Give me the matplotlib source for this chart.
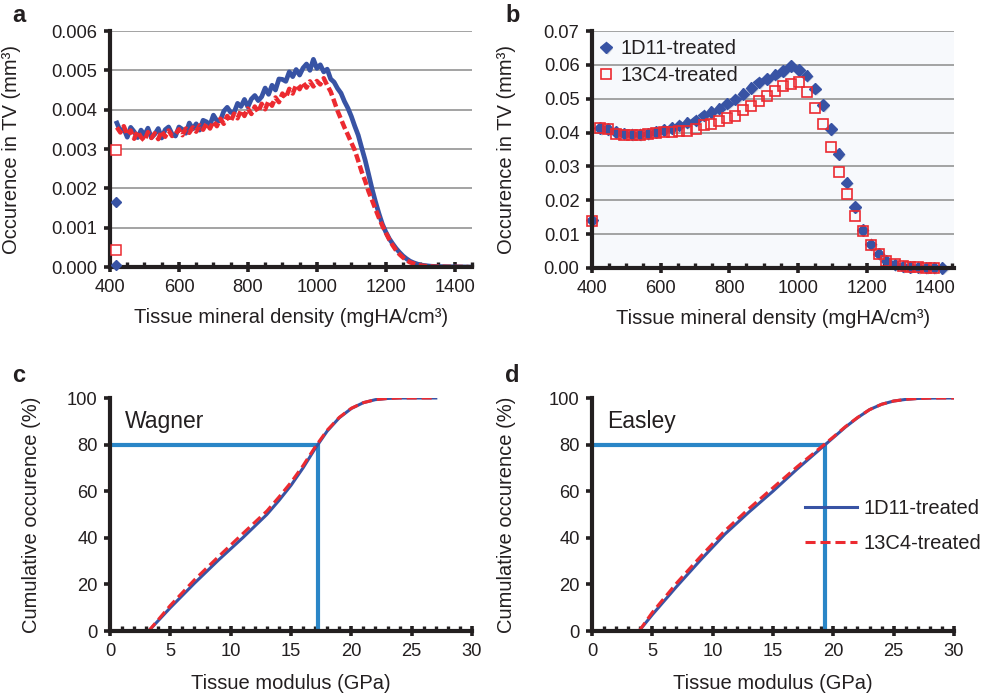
import numpy as np
import matplotlib
matplotlib.use('Agg')
import matplotlib.pyplot as plt
from matplotlib.ticker import MultipleLocator, FormatStrFormatter
import matplotlib.patheffects as pe

plt.rcParams['font.family'] = ['Liberation Sans', 'DejaVu Sans']

# ---------------- data ----------------
# Panel a: histogram of tissue mineral density (bins every 10 mgHA/cm3), x1e-3 mm3
tmd_a = list(range(420, 1450, 10))
a_1d11 = [3.66, 3.45, 3.52, 3.30, 3.55, 3.44, 3.29, 3.48, 3.35, 3.53,
          3.29, 3.38, 3.52, 3.28, 3.49, 3.56, 3.38, 3.33, 3.56, 3.50,
          3.40, 3.66, 3.51, 3.64, 3.48, 3.73, 3.69, 3.61, 3.86, 3.72,
          3.72, 3.96, 4.06, 3.93, 3.93, 4.16, 4.08, 4.26, 4.07, 4.27,
          4.36, 4.23, 4.33, 4.55, 4.39, 4.62, 4.50, 4.78, 4.77, 4.72,
          4.96, 4.84, 5.02, 4.88, 5.06, 5.16, 5.00, 5.28, 5.05, 5.14,
          4.96, 5.03, 4.78, 4.70, 4.54, 4.42, 4.21, 4.04, 3.83, 3.58,
          3.35, 3.03, 2.72, 2.36, 1.99, 1.66, 1.36, 1.09, 0.89, 0.72,
          0.59, 0.47, 0.37, 0.28, 0.21, 0.15, 0.11, 0.08, 0.05, 0.04,
          0.03, 0.02, 0.015, 0.01, 0.01, 0.008, 0.006, 0.005, 0.004, 0.003,
          0.002, 0.001, 0.0]
a_13c4 = [3.55, 3.42, 3.58, 3.36, 3.47, 3.26, 3.45, 3.30, 3.21, 3.43,
          3.28, 3.40, 3.25, 3.46, 3.31, 3.47, 3.33, 3.38, 3.50, 3.35,
          3.52, 3.41, 3.55, 3.44, 3.60, 3.49, 3.65, 3.52, 3.70, 3.58,
          3.77, 3.64, 3.84, 3.70, 3.90, 3.78, 3.98, 3.84, 4.03, 3.89,
          4.08, 3.94, 4.15, 4.01, 4.22, 4.10, 4.31, 4.19, 4.41, 4.30,
          4.53, 4.41, 4.63, 4.52, 4.69, 4.56, 4.72, 4.59, 4.73, 4.64,
          4.80, 4.62, 4.46, 4.22, 3.97, 3.76, 3.55, 3.36, 3.16, 2.97,
          2.70, 2.42, 2.19, 1.92, 1.70, 1.47, 1.25, 1.05, 0.87, 0.70,
          0.55, 0.42, 0.32, 0.24, 0.17, 0.12, 0.09, 0.06, 0.04, 0.03,
          0.02, 0.015, 0.01, 0.01, 0.008, 0.006, 0.005, 0.004, 0.003, 0.002,
          0.001, 0.0, 0.0]
a_1d11 = [v / 1000 for v in a_1d11]
a_13c4 = [v / 1000 for v in a_13c4]
# isolated first-bin points in panel a
a_pts_x = [417, 417]
a_pts_1d11 = [0.00164, 0.00004]
a_pts_13c4 = [0.00297, 0.00042]

# Panel b: coarser histogram
tmd_b = [400, 423, 446, 470, 493, 516, 539, 562, 586, 609, 632, 655, 678, 702,
         725, 748, 771, 794, 818, 841, 864, 887, 910, 934, 957, 980, 1003,
         1026, 1050, 1073, 1096, 1119, 1142, 1166, 1189, 1212, 1235, 1258,
         1282, 1305, 1328, 1351, 1374, 1398, 1421]
b_1d11 = [0.0141, 0.0413, 0.0410, 0.0402, 0.0397, 0.0395, 0.0395, 0.0397,
          0.0402, 0.0408, 0.0413, 0.0421, 0.0429, 0.0436, 0.0451, 0.0461,
          0.0471, 0.0485, 0.0498, 0.0514, 0.0532, 0.0548, 0.0558, 0.0571,
          0.0582, 0.0597, 0.0585, 0.0568, 0.0530, 0.0481, 0.0410, 0.0337,
          0.0252, 0.0180, 0.0112, 0.0070, 0.0042, 0.0022, 0.0010, 0.0005,
          0.0003, 0.0002, 0.0001, 0.0001, 0.0000]
b_13c4 = [0.0138, 0.0413, 0.0410, 0.0397, 0.0393, 0.0393, 0.0393, 0.0395,
          0.0398, 0.0402, 0.0402, 0.0405, 0.0406, 0.0410, 0.0421, 0.0426,
          0.0434, 0.0444, 0.0450, 0.0468, 0.0478, 0.0493, 0.0507, 0.0522,
          0.0539, 0.0543, 0.0548, 0.0520, 0.0473, 0.0424, 0.0356, 0.0283,
          0.0218, 0.0155, 0.0110, 0.0068, 0.0040, 0.0022, 0.0011, 0.0005,
          0.0003, 0.0002, 0.0001, 0.0001]

# Panel c: cumulative occurrence, Wagner
mod_c = [3.2, 5, 7, 9, 11, 13, 14, 15, 16, 17, 18, 19, 20, 21, 22, 23, 24, 25, 27]
c_1d11 = [0, 10, 20.5, 30.5, 40, 50, 56, 62.5, 70, 78.3, 85.8, 91.5, 95.5, 98,
          99.3, 99.8, 100, 100, 100]
c_13c4 = [0, 11, 22, 32, 41.8, 51.5, 57.5, 63.8, 71, 79, 86.2, 91.7, 95.6, 98,
          99.3, 99.8, 100, 100, 100]
c_mod80 = 17.2

# Panel d: cumulative occurrence, Easley
mod_d = [3.9, 5, 7, 9, 11, 13, 15, 17, 19, 20, 21, 22, 23, 24, 25, 26, 27, 28,
         29, 30]
d_1d11 = [0, 7, 19, 30.5, 41.5, 51, 60, 69.5, 78.5, 83, 87.5, 91.5, 95, 97.3,
          98.7, 99.4, 99.8, 99.95, 100, 100]
d_13c4 = [0, 8, 20.5, 32, 43, 52.5, 61.5, 70.5, 79, 83.3, 87.7, 91.6, 95, 97.3,
          98.7, 99.4, 99.8, 99.95, 100, 100]
d_mod80 = 19.35
level80 = 80

# ---------------- style ----------------
navy = '#3853A4'
red = '#EC2A30'
line80 = '#2A86C7'
dark = '#231F20'
gridc = '#9C9C9C'
TICK_FS = 13.2
LABEL_FS = 14.5
LEG_FS = 14.5

W, H = 984, 695
fig = plt.figure(figsize=(W / 100, H / 100), dpi=100)


def add_ax(l, t, r, b):
    return fig.add_axes([l / W, 1 - b / H, (r - l) / W, (b - t) / H])


def style(ax, xmaj, xmin, ymaj, grid):
    for s in ['top', 'right']:
        ax.spines[s].set_visible(False)
    for s in ['left', 'bottom']:
        ax.spines[s].set_linewidth(3)
        ax.spines[s].set_color(dark)
        ax.spines[s].set_capstyle('projecting')
        ax.spines[s].set_zorder(5)
    ax.xaxis.set_major_locator(MultipleLocator(xmaj))
    ax.xaxis.set_minor_locator(MultipleLocator(xmin))
    ax.yaxis.set_major_locator(MultipleLocator(ymaj))
    ax.tick_params(axis='x', which='major', direction='inout', length=7,
                   width=2.6, color=dark, pad=5, labelsize=TICK_FS,
                   labelcolor=dark)
    ax.tick_params(axis='x', which='minor', direction='in', length=3.8,
                   width=2.4, color=dark)
    ax.tick_params(axis='y', which='major', direction='out', length=4,
                   width=2.6, color=dark, pad=5, labelsize=TICK_FS,
                   labelcolor=dark)
    if grid:
        ax.yaxis.grid(True, color=gridc, lw=1.3)
        ax.set_axisbelow(True)


axA = add_ax(110, 31, 472, 267)
axB = add_ax(592, 31, 954, 268)
axC = add_ax(110, 398, 472, 631)
axD = add_ax(592, 398, 954, 631)

# ---- panel a ----
style(axA, 200, 50, 0.001, True)
axA.set_xlim(400, 1450)
axA.set_ylim(0, 0.006)
axA.yaxis.set_major_formatter(FormatStrFormatter('%.3f'))
axA.plot(tmd_a, a_1d11, color=navy, lw=3.4, zorder=3)
axA.plot(tmd_a, a_13c4, color=red, lw=3.2, dashes=(1.9, 0.8), zorder=4)
axA.plot(a_pts_x, a_pts_1d11, ls='none', marker='D', ms=5.4, color=navy,
         clip_on=False, zorder=6)
axA.plot(a_pts_x, a_pts_13c4, ls='none', marker='s', ms=7.2, mfc='white',
         mec=red, mew=1.1, clip_on=False, zorder=6)
axA.set_xlabel('Tissue mineral density (mgHA/cm\u00b3)', fontsize=LABEL_FS,
               color=dark)
axA.set_ylabel('Occurence in TV (mm\u00b3)', fontsize=LABEL_FS, color=dark)
axA.xaxis.set_label_coords(0.5, -0.172)
axA.yaxis.set_label_coords(-0.245, 0.5)

# ---- panel b ----
style(axB, 200, 50, 0.01, True)
axB.set_facecolor('#F7F9FC')
axB.set_xlim(400, 1455)
axB.set_ylim(0, 0.07)
axB.yaxis.set_major_formatter(FormatStrFormatter('%.2f'))
shadow = [pe.SimplePatchShadow(offset=(1.2, -1.2), shadow_rgbFace='#9aa0aa',
                               alpha=0.35), pe.Normal()]
axB.plot(tmd_b, b_1d11, ls='none', marker='D', ms=5.8, color=navy,
         label='1D11-treated', zorder=3, clip_on=False, path_effects=shadow)
axB.plot(tmd_b[:len(b_13c4)], b_13c4, ls='none', marker='s', ms=7.8,
         mfc='none', mec=red, mew=1.2, label='13C4-treated', zorder=4,
         clip_on=False)
axB.legend(loc='upper left', bbox_to_anchor=(0.0166, 0.965), frameon=False,
           handlelength=0.8, handletextpad=0.3, borderpad=0, borderaxespad=0,
           fontsize=LEG_FS, labelspacing=0.4, labelcolor=dark)
axB.set_xlabel('Tissue mineral density (mgHA/cm\u00b3)', fontsize=LABEL_FS,
               color=dark)
axB.set_ylabel('Occurence in TV (mm\u00b3)', fontsize=LABEL_FS, color=dark)
axB.xaxis.set_label_coords(0.5, -0.171)
axB.yaxis.set_label_coords(-0.21, 0.5)

# ---- panels c, d ----
for ax, mod, s1, s2, m80, name in [(axC, mod_c, c_1d11, c_13c4, c_mod80, 'Wagner'),
                                   (axD, mod_d, d_1d11, d_13c4, d_mod80, 'Easley')]:
    style(ax, 5, 1, 20, False)
    ax.set_xlim(0, 30)
    ax.set_ylim(0, 100)
    ax.plot([0, m80, m80], [level80, level80, 0], color=line80, lw=3,
            solid_joinstyle='miter', solid_capstyle='butt', zorder=2,
            clip_on=False)
    ax.plot(mod, s1, color=navy, lw=2.2, zorder=3, label='1D11-treated')
    ax.plot(mod, s2, color=red, lw=2.2, dashes=(3.3, 1.6), zorder=4,
            label='13C4-treated')
    ax.text(1.25, 87, name, fontsize=16.5, color=dark, va='baseline')
    ax.set_xlabel('Tissue modulus (GPa)', fontsize=LABEL_FS, color=dark)
    ax.set_ylabel('Cumulative occurence (%)', fontsize=LABEL_FS, color=dark)
    ax.xaxis.set_label_coords(0.5, -0.185)

axC.yaxis.set_label_coords(-0.19, 0.5)
axD.yaxis.set_label_coords(-0.21, 0.5)
axD.legend(loc='upper left', bbox_to_anchor=(0.588, 0.565), frameon=False,
           handlelength=2.6, handletextpad=0.3, borderpad=0,
           borderaxespad=0, fontsize=LEG_FS, labelspacing=0.8,
           labelcolor=dark)

# panel letters
for x, y, t in [(12, 22, 'a'), (505, 22, 'b'), (12, 382, 'c'), (505, 382, 'd')]:
    fig.text(x / W, 1 - y / H, t, fontsize=17, fontweight='bold', color=dark,
             va='baseline', ha='left')

fig.savefig('out.png', dpi=100)
